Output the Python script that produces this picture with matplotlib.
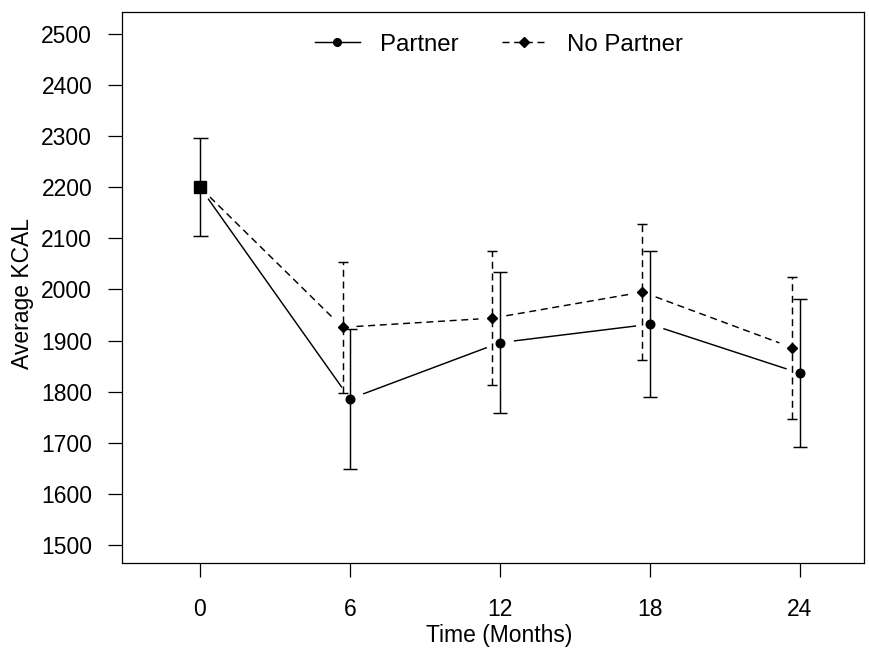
import numpy as np
import matplotlib
matplotlib.use("Agg")
import matplotlib.pyplot as plt
from matplotlib.lines import Line2D

plt.rcParams['font.family'] = ['Liberation Sans', 'DejaVu Sans']

# ---- data ----
months = [6, 12, 18, 24]
baseline_month = 0
baseline_mean = 2200
baseline_err = 96
partner_mean = [1786, 1896, 1932, 1836]
partner_err = [137, 138, 143, 145]
nopartner_mean = [1926, 1944, 1995, 1886]
nopartner_err = [128, 131, 133, 139]
x_ticks = [0, 6, 12, 18, 24]
y_ticks = [1500, 1600, 1700, 1800, 1900, 2000, 2100, 2200, 2300, 2400, 2500]
nopartner_offset = -0.3

FS = 16.5

fig = plt.figure(figsize=(8.7, 6.49), dpi=100)
ax = fig.add_axes([122/870, 1-563/649, (864-122)/870, (563-12)/649])
ax.set_xlim(-3.12, 26.56)
ax.set_ylim(1464.8, 2543)

LW = 1.05
DASH = (4.8, 3.2)
GAP = 14  # pixels

def gapped(xs, ys, **kw):
    pts = ax.transData.transform(np.column_stack([xs, ys]))
    inv = ax.transData.inverted()
    for p0, p1 in zip(pts[:-1], pts[1:]):
        d = p1 - p0
        L = np.hypot(*d)
        u = d / L
        a = p0 + u * GAP
        b = p1 - u * GAP
        seg = inv.transform(np.vstack([a, b]))
        ax.plot(seg[:, 0], seg[:, 1], **kw)

px = [baseline_month] + list(months)
py = [baseline_mean] + partner_mean
nx = [baseline_month] + [m + nopartner_offset for m in months]
ny = [baseline_mean] + nopartner_mean

gapped(px, py, color='black', lw=LW, solid_capstyle='butt')
gapped(nx, ny, color='black', lw=LW, linestyle=(0, DASH), dash_capstyle='butt')

# error bars
e1 = ax.errorbar(months, partner_mean, yerr=partner_err, fmt='none', ecolor='black',
                 elinewidth=LW, capsize=5.2, capthick=LW)
e2 = ax.errorbar([m + nopartner_offset for m in months], nopartner_mean, yerr=nopartner_err,
                 fmt='none', ecolor='black', elinewidth=LW, capsize=3.9, capthick=LW)
for lc in e2[2]:
    lc.set_linestyle((0, DASH))
e0 = ax.errorbar([baseline_month], [baseline_mean], yerr=[baseline_err], fmt='none',
                 ecolor='black', elinewidth=LW, capsize=5.4, capthick=LW)

ax.plot(months, partner_mean, linestyle='none', marker='o', ms=6.2, color='black')
ax.plot([m + nopartner_offset for m in months], nopartner_mean, linestyle='none',
        marker='D', ms=5.5, color='black')
ax.plot([baseline_month], [baseline_mean], linestyle='none', marker='s', ms=8, color='black')

ax.set_xticks(x_ticks)
ax.set_xticklabels([str(t) for t in x_ticks])
ax.set_yticks(y_ticks)
ax.set_yticklabels([str(t) for t in y_ticks])
ax.tick_params(axis='both', direction='out', length=10, width=0.9, labelsize=FS, colors='black')
ax.tick_params(axis='y', pad=11.5)
ax.tick_params(axis='x', pad=15)
for s in ax.spines.values():
    s.set_linewidth(0.9)

ax.set_xlabel('Time (Months)', fontsize=FS, labelpad=1)
ax.set_ylabel('Average KCAL', fontsize=FS, labelpad=5)
ax.xaxis.set_label_coords(0.509, -0.11)
ax.yaxis.label.set_y(0.49)

handles = [
    Line2D([], [], color='black', lw=LW, marker='o', ms=5.5),
    Line2D([], [], color='black', lw=LW, linestyle=(0, DASH), marker='D', ms=5),
]
ax.legend(handles, ['Partner', 'No Partner'], loc='upper center', bbox_to_anchor=(0.508, 1.0),
          ncol=2, frameon=False, fontsize=17.3, handlelength=1.85, handletextpad=0.85,
          columnspacing=1.8)

fig.savefig('out.png', dpi=100)
